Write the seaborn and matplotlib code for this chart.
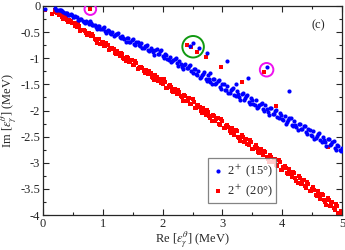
import numpy as np
import pandas as pd
import matplotlib
matplotlib.use('Agg')
import matplotlib.pyplot as plt
import seaborn as sns
from matplotlib.ticker import MultipleLocator

# 2+ (15 deg) resonance trajectory points (Re, Im) in MeV
re_15 = [0.03, 0.20, 0.24, 0.28, 0.32, 0.36, 0.40, 0.44, 0.48, 0.52, 0.56, 0.60, 0.64, 0.68,
         0.72, 0.76, 0.80, 0.84, 0.88, 0.92, 0.96, 1.00, 1.04, 1.08, 1.12, 1.16, 1.20, 1.24,
         1.28, 1.32, 1.36, 1.40, 1.44, 1.48, 1.52, 1.56, 1.60, 1.64, 1.68, 1.72, 1.76, 1.80,
         1.84, 1.88, 1.92, 1.96, 2.00, 2.04, 2.08, 2.12, 2.16, 2.20, 2.24, 2.28, 2.32, 2.36,
         2.40, 2.44, 2.48, 2.52, 2.56, 2.60, 2.64, 2.68, 2.72, 2.76, 2.80, 2.84, 2.88, 2.92,
         2.96, 3.00, 3.04, 3.08, 3.12, 3.16, 3.20, 3.24, 3.28, 3.32, 3.36, 3.40, 3.44, 3.48,
         3.52, 3.56, 3.60, 3.64, 3.68, 3.72, 3.76, 3.80, 3.84, 3.88, 3.92, 3.96, 4.00, 4.04,
         4.08, 4.12, 4.16, 4.20, 4.24, 4.28, 4.32, 4.36, 4.40, 4.44, 4.48, 4.52, 4.56, 4.60,
         4.64, 4.68, 4.72, 4.76, 4.80, 4.84, 4.88, 4.92, 4.96, 5.00,
         2.45, 2.51, 2.61, 2.75, 3.08, 2.80, 3.22, 3.43, 3.75, 4.12]
im_15 = [-0.06, -0.03, -0.07, -0.08, -0.09, -0.14, -0.13, -0.18, -0.17, -0.22, -0.21, -0.26, -0.25, -0.30,
         -0.29, -0.34, -0.33, -0.36, -0.40, -0.38, -0.44, -0.42, -0.47, -0.46, -0.52, -0.49, -0.55, -0.53,
         -0.60, -0.58, -0.64, -0.61, -0.68, -0.66, -0.72, -0.69, -0.75, -0.71, -0.80, -0.77, -0.84, -0.81,
         -0.88, -0.84, -0.91, -0.87, -0.95, -0.92, -1.01, -0.97, -1.06, -1.02, -1.10, -1.05, -1.16, -1.12,
         -1.19, -1.15, -1.24, -1.20, -1.30, -1.25, -1.35, -1.30, -1.40, -1.33, -1.45, -1.40, -1.49, -1.44,
         -1.55, -1.49, -1.60, -1.54, -1.66, -1.58, -1.70, -1.63, -1.74, -1.68, -1.79, -1.73, -1.83, -1.76,
         -1.88, -1.80, -1.93, -1.87, -1.97, -1.90, -2.02, -1.95, -2.07, -2.00, -2.12, -2.05, -2.17, -2.10,
         -2.22, -2.15, -2.27, -2.20, -2.31, -2.25, -2.36, -2.30, -2.42, -2.35, -2.47, -2.40, -2.52, -2.45,
         -2.56, -2.50, -2.61, -2.55, -2.66, -2.60, -2.71, -2.66, -2.76, -2.72,
         -0.77, -0.71, -0.80, -0.90, -1.05, -1.28, -1.49, -1.38, -1.17, -1.63]
# second sweep of the same band (in-between angles)
re_15_b = [0.22, 0.26, 0.30, 0.34, 0.38, 0.42, 0.46, 0.50, 0.54, 0.58, 0.62, 0.66, 0.70, 0.74,
           0.78, 0.82, 0.86, 0.90, 0.94, 0.98, 1.02, 1.06, 1.10, 1.14, 1.18, 1.22, 1.26, 1.30,
           1.34, 1.38, 1.42, 1.46, 1.50, 1.54, 1.58, 1.62, 1.66, 1.70, 1.74, 1.78, 1.82, 1.86,
           1.90, 1.94, 1.98, 2.02, 2.06, 2.10, 2.14, 2.18, 2.22, 2.26, 2.30, 2.34, 2.38, 2.42,
           2.46, 2.50, 2.54, 2.58, 2.62, 2.66, 2.70, 2.74, 2.78, 2.82, 2.86, 2.90, 2.94, 2.98,
           3.02, 3.06, 3.10, 3.14, 3.18, 3.22, 3.26, 3.30, 3.34, 3.38, 3.42, 3.46, 3.50, 3.54,
           3.58, 3.62, 3.66, 3.70, 3.74, 3.78, 3.82, 3.86, 3.90, 3.94, 3.98, 4.02, 4.06, 4.10,
           4.14, 4.18, 4.22, 4.26, 4.30, 4.34, 4.38, 4.42, 4.46, 4.50, 4.54, 4.58, 4.62, 4.66,
           4.70, 4.74, 4.78, 4.82, 4.86, 4.90, 4.94, 4.98]
im_15_b = [-0.07, -0.07, -0.08, -0.12, -0.14, -0.18, -0.16, -0.21, -0.19, -0.26, -0.25, -0.29, -0.33, -0.30,
           -0.29, -0.37, -0.37, -0.44, -0.38, -0.44, -0.40, -0.51, -0.47, -0.53, -0.57, -0.54, -0.52, -0.62,
           -0.61, -0.69, -0.61, -0.68, -0.63, -0.75, -0.69, -0.77, -0.81, -0.77, -0.74, -0.86, -0.84, -0.93,
           -0.83, -0.91, -0.85, -0.99, -0.94, -1.03, -1.07, -1.03, -0.99, -1.14, -1.11, -1.21, -1.11, -1.19,
           -1.13, -1.29, -1.21, -1.32, -1.37, -1.32, -1.27, -1.43, -1.40, -1.50, -1.39, -1.48, -1.41, -1.58,
           -1.50, -1.61, -1.67, -1.60, -1.56, -1.72, -1.69, -1.79, -1.67, -1.77, -1.70, -1.87, -1.79, -1.89,
           -1.96, -1.89, -1.85, -2.01, -1.97, -2.08, -1.96, -2.06, -1.99, -2.15, -2.08, -2.18, -2.25, -2.18,
           -2.14, -2.30, -2.27, -2.37, -2.26, -2.35, -2.29, -2.45, -2.38, -2.48, -2.55, -2.48, -2.43, -2.60,
           -2.56, -2.67, -2.55, -2.65, -2.58, -2.75, -2.67, -2.78]

# 2+ (20 deg)
re_20 = [0.03, 0.15, 0.33, 0.20, 0.24, 0.28, 0.32, 0.36, 0.40, 0.44, 0.48, 0.52, 0.56, 0.60, 0.64,
         0.68, 0.72, 0.76, 0.80, 0.84, 0.88, 0.92, 0.96, 1.00, 1.04, 1.08, 1.12, 1.16, 1.20, 1.24,
         1.28, 1.32, 1.36, 1.40, 1.44, 1.48, 1.52, 1.56, 1.60, 1.64, 1.68, 1.72, 1.76, 1.80,
         1.84, 1.88, 1.92, 1.96, 2.00, 2.04, 2.08, 2.12, 2.16, 2.20, 2.24, 2.28, 2.32, 2.36,
         2.40, 2.44, 2.48, 2.52, 2.56, 2.60, 2.64, 2.68, 2.72, 2.76, 2.80, 2.84, 2.88, 2.92,
         2.96, 3.00, 3.04, 3.08, 3.12, 3.16, 3.20, 3.24, 3.28, 3.32, 3.36, 3.40, 3.44, 3.48,
         3.52, 3.56, 3.60, 3.64, 3.68, 3.72, 3.76, 3.80, 3.84, 3.88, 3.92, 3.96, 4.00, 4.04,
         4.08, 4.12, 4.16, 4.20, 4.24, 4.28, 4.32, 4.36, 4.40, 4.44, 4.48, 4.52, 4.56, 4.60,
         4.64, 4.68, 4.72, 4.76, 4.80, 4.84, 4.88, 4.92, 4.96, 5.00,
         0.79, 2.41, 2.48, 2.58, 2.73, 2.98, 3.33, 3.69, 3.90, 4.77]
im_20 = [-0.08, -0.15, -0.25, -0.08, -0.14, -0.15, -0.21, -0.21, -0.27, -0.27, -0.33, -0.33, -0.40, -0.39, -0.46,
         -0.45, -0.52, -0.51, -0.58, -0.57, -0.65, -0.63, -0.72, -0.69, -0.77, -0.75, -0.83, -0.80, -0.89, -0.86,
         -0.95, -0.92, -1.01, -0.98, -1.07, -1.04, -1.13, -1.10, -1.19, -1.16, -1.25, -1.22, -1.31, -1.28,
         -1.37, -1.33, -1.43, -1.39, -1.49, -1.46, -1.56, -1.52, -1.62, -1.58, -1.69, -1.64, -1.75, -1.71,
         -1.82, -1.77, -1.88, -1.83, -1.95, -1.89, -2.01, -1.96, -2.08, -2.02, -2.14, -2.08, -2.20, -2.15,
         -2.27, -2.21, -2.33, -2.28, -2.40, -2.34, -2.47, -2.40, -2.53, -2.47, -2.60, -2.54, -2.66, -2.60,
         -2.73, -2.66, -2.80, -2.73, -2.86, -2.79, -2.93, -2.86, -2.99, -2.92, -3.06, -2.99, -3.13, -3.06,
         -3.20, -3.12, -3.27, -3.19, -3.34, -3.26, -3.41, -3.33, -3.48, -3.40, -3.55, -3.47, -3.62, -3.54,
         -3.69, -3.61, -3.76, -3.68, -3.83, -3.75, -3.90, -3.83, -3.97, -3.93,
         -0.06, -0.75, -0.79, -0.88, -0.98, -1.17, -1.46, -1.26, -1.91, -2.70]
re_20_b = [0.22, 0.26, 0.30, 0.34, 0.38, 0.42, 0.46, 0.50, 0.54, 0.58, 0.62, 0.66, 0.70, 0.74,
           0.78, 0.82, 0.86, 0.90, 0.94, 0.98, 1.02, 1.06, 1.10, 1.14, 1.18, 1.22, 1.26, 1.30,
           1.34, 1.38, 1.42, 1.46, 1.50, 1.54, 1.58, 1.62, 1.66, 1.70, 1.74, 1.78, 1.82, 1.86,
           1.90, 1.94, 1.98, 2.02, 2.06, 2.10, 2.14, 2.18, 2.22, 2.26, 2.30, 2.34, 2.38, 2.42,
           2.46, 2.50, 2.54, 2.58, 2.62, 2.66, 2.70, 2.74, 2.78, 2.82, 2.86, 2.90, 2.94, 2.98,
           3.02, 3.06, 3.10, 3.14, 3.18, 3.22, 3.26, 3.30, 3.34, 3.38, 3.42, 3.46, 3.50, 3.54,
           3.58, 3.62, 3.66, 3.70, 3.74, 3.78, 3.82, 3.86, 3.90, 3.94, 3.98, 4.02, 4.06, 4.10,
           4.14, 4.18, 4.22, 4.26, 4.30, 4.34, 4.38, 4.42, 4.46, 4.50, 4.54, 4.58, 4.62, 4.66,
           4.70, 4.74, 4.78, 4.82, 4.86, 4.90, 4.94, 4.98]
im_20_b = [-0.11, -0.17, -0.18, -0.18, -0.25, -0.30, -0.28, -0.33, -0.39, -0.33, -0.47, -0.45, -0.47, -0.56,
           -0.55, -0.53, -0.63, -0.70, -0.64, -0.70, -0.76, -0.70, -0.84, -0.81, -0.83, -0.92, -0.91, -0.89,
           -0.99, -1.06, -1.00, -1.05, -1.12, -1.06, -1.20, -1.17, -1.19, -1.28, -1.27, -1.25, -1.35, -1.42,
           -1.36, -1.41, -1.48, -1.40, -1.57, -1.53, -1.55, -1.65, -1.64, -1.60, -1.73, -1.81, -1.72, -1.79,
           -1.87, -1.78, -1.96, -1.91, -1.93, -2.04, -2.02, -1.99, -2.11, -2.20, -2.11, -2.17, -2.25, -2.16,
           -2.34, -2.30, -2.32, -2.43, -2.41, -2.38, -2.50, -2.59, -2.50, -2.56, -2.64, -2.56, -2.74, -2.69,
           -2.71, -2.82, -2.80, -2.77, -2.89, -2.98, -2.89, -2.96, -3.04, -2.95, -3.13, -3.09, -3.11, -3.22,
           -3.20, -3.17, -3.30, -3.39, -3.30, -3.37, -3.45, -3.37, -3.55, -3.51, -3.52, -3.63, -3.62, -3.59,
           -3.71, -3.80, -3.72, -3.78, -3.87, -3.78, -3.96, -3.92]

# highlighted points (open circles)
ring_re = [0.79, 2.51, 3.74]
ring_im = [-0.06, -0.78, -1.22]
ring_colors = ['#ee11ee', '#119911', '#ee11ee']
ring_sizes = [70, 240, 95]

df15 = pd.DataFrame({'re': re_15 + re_15_b, 'im': im_15 + im_15_b})
df20 = pd.DataFrame({'re': re_20 + re_20_b, 'im': im_20 + im_20_b})

sns.set_style('ticks')
plt.rcParams['font.family'] = ['Liberation Serif', 'DejaVu Serif']
plt.rcParams['mathtext.fontset'] = 'stix'

fig = plt.figure(figsize=(3.45, 2.5), dpi=100)
ax = fig.add_axes([0.125, 0.14, 0.866, 0.836])

sns.scatterplot(data=df15, x='re', y='im', ax=ax, color='#0000ff', marker='o',
                s=9, linewidth=0, label=r'2$^+$ (15°)', zorder=3)
sns.scatterplot(data=df20, x='re', y='im', ax=ax, color='#ff0000', marker='s',
                s=8, linewidth=0, label=r'2$^+$ (20°)', zorder=2)

for rx, ry, rc, rs in zip(ring_re, ring_im, ring_colors, ring_sizes):
    ax.scatter([rx], [ry], s=rs, facecolors='none', edgecolors=rc, linewidths=1.4, zorder=4)

ax.set_xlim(0, 5)
ax.set_ylim(-4, 0)
ax.set_xticks(range(6))
ax.set_xticklabels(['0', '1', '2', '3', '4', '5'])
ax.set_yticks(np.arange(-4, 0.01, 0.5))
ax.set_yticklabels(['-4', '-3.5', '-3', '-2.5', '-2', '-1.5', '-1', '-0.5', '0'])
ax.xaxis.set_minor_locator(MultipleLocator(0.5))
ax.yaxis.set_minor_locator(MultipleLocator(0.25))
ax.tick_params(which='both', direction='in', top=True, right=True, labelsize=9, pad=2)
ax.tick_params(which='major', length=4, width=0.8)
ax.tick_params(which='minor', length=2, width=0.8)
for sp in ax.spines.values():
    sp.set_linewidth(0.9)

ax.set_xlabel(r'Re [$\varepsilon_\gamma^\theta$] (MeV)', fontsize=9, labelpad=0)
ax.set_ylabel(r'Im [$\varepsilon_\gamma^\theta$] (MeV)', fontsize=9, labelpad=1)
ax.text(0.92, 0.91, '(c)', transform=ax.transAxes, fontsize=9, ha='center', va='center')

leg = ax.legend(loc='lower left', bbox_to_anchor=(0.552, 0.057), borderaxespad=0,
                fontsize=9, frameon=True, fancybox=False, handletextpad=0.2,
                handlelength=1.0, borderpad=0.3, labelspacing=0.3, markerscale=1.0)
leg.get_frame().set_edgecolor('#666666')
leg.get_frame().set_linewidth(0.9)

fig.savefig('out.png', dpi=100)
